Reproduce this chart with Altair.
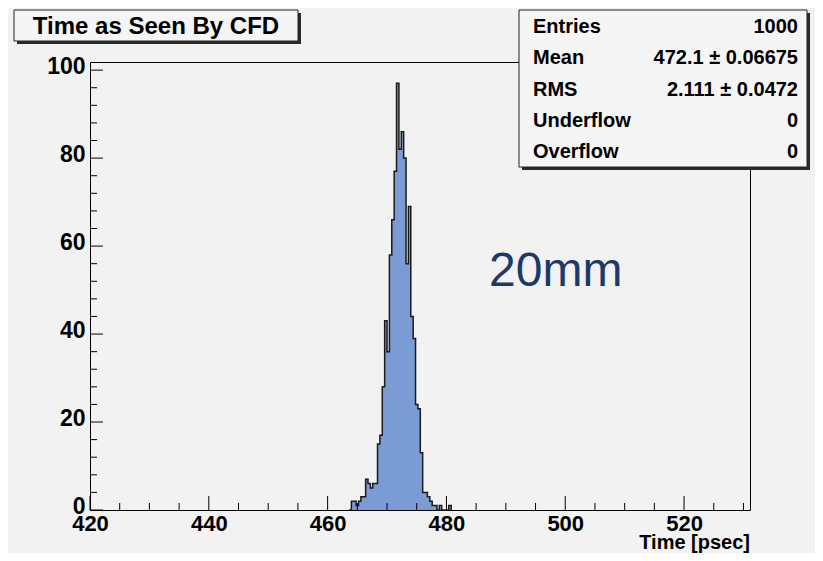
import altair as alt
import pandas as pd

# ---------------- data ----------------
bin_width = 0.4                 # psec per bin
first_bin = 464.0               # left edge of first listed bin
counts = [2, 2, 1, 2, 3, 3, 7, 6, 5, 6, 6, 15, 17, 28, 43, 36, 58, 66, 77, 97,
          82, 86, 80, 56, 69, 44, 39, 24, 23, 13, 4, 4, 3, 2, 1, 1, 0, 1, 0, 0, 0, 1]

x_label_values = [420, 440, 460, 480, 500, 520]
y_label_values = [0, 20, 40, 60, 80, 100]
x_minor_step = 5
y_minor_step = 4
x_domain = [420, 531.1]
y_domain = [0, 101.85]

title_text = "Time as Seen By CFD"
stat_names = ["Entries", "Mean", "RMS", "Underflow", "Overflow"]
stat_values = ["1000", "472.1 \u00b1 0.06675", "2.111 \u00b1 0.0472", "0", "0"]
note_text = "20mm"
x_title = "Time [psec]"

# ---------------- build tables ----------------
n = len(counts)
xs = [first_bin - bin_width] + [first_bin + i * bin_width for i in range(n)] + [first_bin + n * bin_width]
ys = [0] + counts + [0]
hist = pd.DataFrame({"t": xs, "n": ys})

x_minor = [v for v in range(x_label_values[0], int(x_domain[1]) + 1, x_minor_step) if v not in x_label_values]
y_minor = [v for v in range(0, int(y_domain[1]) + 1, y_minor_step) if v not in y_label_values]

# ---------------- layout / style ----------------
W, H = 660, 448
PAD = {"left": 82, "top": 54, "right": 65, "bottom": 43}
FONT = "Liberation Sans"
BG = "#f2f2f2"
FILL = "#7b9bd4"
LINE = "#1a1a1a"

xs_scale = alt.Scale(domain=x_domain, nice=False, zero=False)
ys_scale = alt.Scale(domain=y_domain, nice=False, zero=False)
x_axis = alt.Axis(values=x_label_values, ticks=False, domain=False, grid=False,
                  labelFont=FONT, labelFontSize=22, labelFontWeight="bold",
                  labelColor="black", labelPadding=3, labelFlush=False,
                  labelOverlap=False, title=None)
y_axis = alt.Axis(values=y_label_values, ticks=False, domain=False, grid=False,
                  labelFont=FONT, labelFontSize=23, labelFontWeight="bold",
                  labelColor="black", labelPadding=5, labelOffset=-4,
                  labelOverlap=False, title=None)


def X(field):
    return alt.X(field, type="quantitative", scale=xs_scale, axis=x_axis)


def Y(field):
    return alt.Y(field, type="quantitative", scale=ys_scale, axis=y_axis)


one = pd.DataFrame({"a": [0]})

area = alt.Chart(hist).mark_area(interpolate="step-after", color=FILL).encode(x=X("t"), y=Y("n"))
outline = alt.Chart(hist).mark_line(interpolate="step-after", color=LINE, strokeWidth=1.5).encode(
    x=X("t"), y=Y("n"))

x_major_ticks = alt.Chart(pd.DataFrame({"v": x_label_values})).mark_rule(color="black", strokeWidth=1).encode(
    x=X("v"), y=alt.value(H), y2=alt.value(H - 14))
x_minor_ticks = alt.Chart(pd.DataFrame({"v": x_minor})).mark_rule(color="black", strokeWidth=1).encode(
    x=X("v"), y=alt.value(H), y2=alt.value(H - 7))
y_major_ticks = alt.Chart(pd.DataFrame({"v": y_label_values})).mark_rule(color="black", strokeWidth=1).encode(
    y=Y("v"), x=alt.value(0), x2=alt.value(13))
y_minor_ticks = alt.Chart(pd.DataFrame({"v": y_minor})).mark_rule(color="black", strokeWidth=1).encode(
    y=Y("v"), x=alt.value(0), x2=alt.value(7))

# title box (ROOT style with shadow)
tb = (-76, 208, -52, -21)
title_shadow = alt.Chart(one).mark_rect(color="#2a2a2a").encode(
    x=alt.value(tb[0] + 3), x2=alt.value(tb[1] + 3), y=alt.value(tb[2] + 3), y2=alt.value(tb[3] + 3))
title_box = alt.Chart(one).mark_rect(fill="#f5f5f5", stroke="#222222", strokeWidth=1).encode(
    x=alt.value(tb[0]), x2=alt.value(tb[1]), y=alt.value(tb[2]), y2=alt.value(tb[3]))
title_label = alt.Chart(one).mark_text(font=FONT, fontSize=24, fontWeight="bold", color="black",
                                       align="center", baseline="middle").encode(
    x=alt.value((tb[0] + tb[1]) / 2), y=alt.value((tb[2] + tb[3]) / 2 + 1), text=alt.value(title_text))

# statistics box
sb = (429, 717, -52, 105)
stats_shadow = alt.Chart(one).mark_rect(color="#2a2a2a").encode(
    x=alt.value(sb[0] + 3), x2=alt.value(sb[1] + 3), y=alt.value(sb[2] + 3), y2=alt.value(sb[3] + 3))
stats_box = alt.Chart(one).mark_rect(fill="#f5f5f5", stroke="#222222", strokeWidth=1).encode(
    x=alt.value(sb[0]), x2=alt.value(sb[1]), y=alt.value(sb[2]), y2=alt.value(sb[3]))
row_h = (sb[3] - sb[2]) / len(stat_names)
stat_layers = []
for i, (nm, vl) in enumerate(zip(stat_names, stat_values)):
    yy = sb[2] + row_h * (i + 0.5) + 1
    stat_layers.append(alt.Chart(one).mark_text(font=FONT, fontSize=20, fontWeight="bold", color="black",
                                                align="left", baseline="middle").encode(
        x=alt.value(sb[0] + 14), y=alt.value(yy), text=alt.value(nm)))
    stat_layers.append(alt.Chart(one).mark_text(font=FONT, fontSize=20, fontWeight="bold", color="black",
                                                align="right", baseline="middle").encode(
        x=alt.value(sb[1] - 9), y=alt.value(yy), text=alt.value(vl)))

note = alt.Chart(one).mark_text(font=FONT, fontSize=48, color="#1b3a6b", align="left",
                                baseline="middle").encode(
    x=alt.value(399), y=alt.value(210), text=alt.value(note_text))

xtitle = alt.Chart(one).mark_text(font=FONT, fontSize=20, fontWeight="bold", color="black",
                                  align="right", baseline="bottom").encode(
    x=alt.value(W), y=alt.value(H + 43), text=alt.value(x_title))

chart = alt.layer(
    area, outline, x_major_ticks, x_minor_ticks, y_major_ticks, y_minor_ticks,
    title_shadow, title_box, title_label, stats_shadow, stats_box, *stat_layers, note, xtitle
).properties(
    width=W, height=H, padding=PAD, autosize=alt.AutoSizeParams(type="none"), background=BG
).configure_view(fill=BG, stroke="black", strokeWidth=1)

chart.save("out.html", embed_options={"renderer": "svg", "actions": False})
